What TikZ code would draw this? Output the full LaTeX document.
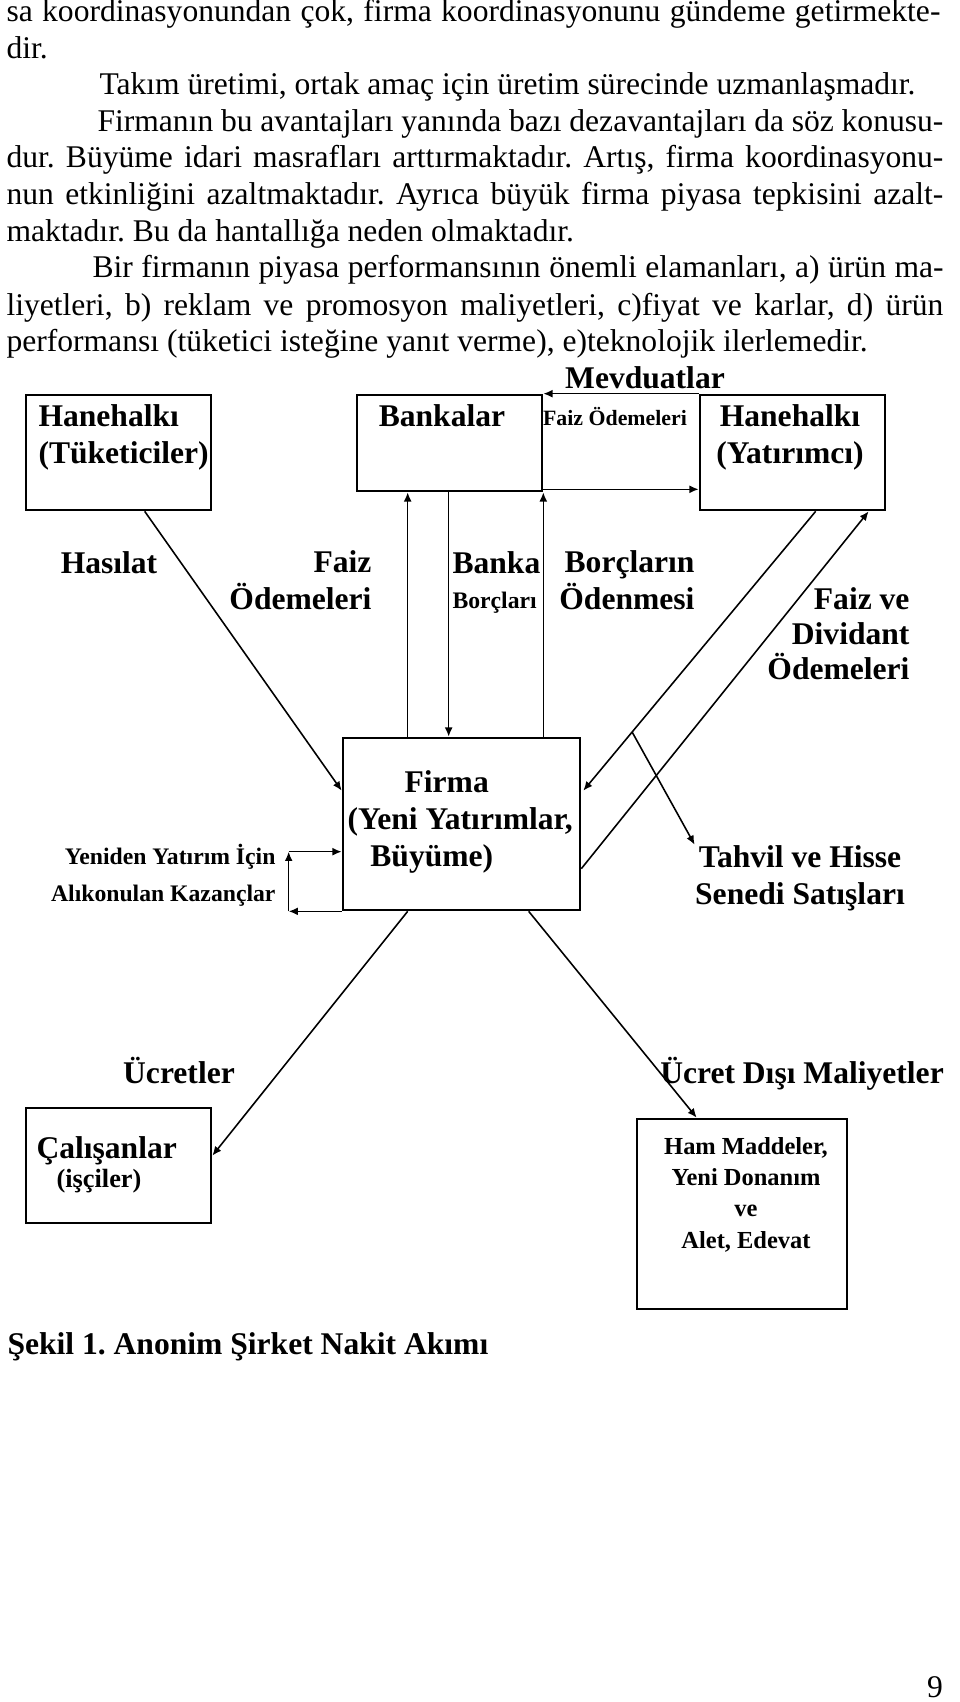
\documentclass[tikz,border=0pt]{standalone}
\usepackage{fontspec}
\setmainfont{Liberation Serif}
\usetikzlibrary{arrows.meta,fit,calc}
\frenchspacing

\begin{document}
\begin{tikzpicture}[x=0.38pt,y=-0.38pt,
  metin/.style={font=\fontsize{12}{14}\selectfont,inner sep=0pt,anchor=base west},
  buyuk/.style={font=\bfseries\fontsize{12}{14}\selectfont,inner sep=0pt,anchor=base},
  kucuk/.style={font=\bfseries\fontsize{9}{14}\selectfont,inner sep=0pt,anchor=base},
  kutu/.style={draw,line width=1pt,inner sep=0pt},
  ok/.style={-{Latex[length=3.5pt,width=3pt]},line width=0.6pt}]
\useasboundingbox (0,0) rectangle (960,1702);

\node[metin] (s1) at (6,22) {\makebox[354.9pt][s]{sa koordinasyonundan çok, firma koordinasyonunu gündeme getirmekte-}};
\node[metin] (s2) at (6,58.6) {dir.};
\node[metin] (s3) at (99,95) {Takım üretimi, ortak amaç için üretim sürecinde uzmanlaşmadır.};
\node[metin] (s4) at (97,132) {\makebox[321.4pt][s]{Firmanın bu avantajları yanında bazı dezavantajları da söz konusu-}};
\node[metin] (s5) at (6,168) {\makebox[356pt][s]{dur. Büyüme idari masrafları arttırmaktadır. Artış, firma koordinasyonu-}};
\node[metin] (s6) at (6,205) {\makebox[356pt][s]{nun etkinliğini azaltmaktadır. Ayrıca büyük firma piyasa tepkisini azalt-}};
\node[metin] (s7) at (6,241.5) {maktadır. Bu da hantallığa neden olmaktadır.};
\node[metin] (s8) at (92,278) {\makebox[323.4pt][s]{Bir firmanın piyasa performansının önemli elamanları, a) ürün ma-}};
\node[metin] (s9) at (6,315) {\makebox[356pt][s]{liyetleri, b) reklam ve promosyon maliyetleri, c)fiyat ve karlar, d) ürün}};
\node[metin] (s10) at (6,351) {performansı (tüketici isteğine yanıt verme), e)teknolojik ilerlemedir.};

\node[kutu,fit={(26,395) (211,510)}] (tuk) {};
\node[kutu,fit={(357,395) (542,491)}] (bank) {};
\node[kutu,fit={(700,395) (885,510)}] (yat) {};
\node[kutu,fit={(343,738) (580,910)}] (firma) {};
\node[kutu,fit={(26,1108) (211,1223)}] (calisan) {};
\node[kutu,fit={(637,1119) (847,1309)}] (ham) {};

\node[buyuk,align=left,anchor=base west] (tukyazi) at (38,463) {Hanehalkı\\(Tüketiciler)};
\node[buyuk] (bankyazi) at (442,426) {Bankalar};
\node[buyuk,align=center] (yatyazi) at (790,463) {Hanehalkı\\(Yatırımcı)};
\node[buyuk,align=left,anchor=base west] (firmayazi) at (347,866) {\hspace{21.7pt}Firma\\(Yeni Yatırımlar,\\\hspace{8.7pt}Büyüme)};
\node[buyuk,anchor=base west] (calisanyazi) at (36,1158) {Çalışanlar};
\node[font=\bfseries\fontsize{10}{12}\selectfont,inner sep=0pt,anchor=base] (isci) at (99,1187) {(işçiler)};
\node[font=\bfseries\fontsize{9.3}{11.8}\selectfont,align=center,inner sep=0pt,anchor=base] (hamyazi) at (746,1248) {Ham Maddeler,\\Yeni Donanım\\ve\\Alet, Edevat};

\node[buyuk] (mevduat) at (645,388) {Mevduatlar};
\node[font=\bfseries\fontsize{8.3}{10}\selectfont,inner sep=0pt,anchor=base] (faizust) at (615,425) {Faiz Ödemeleri};
\node[buyuk] (hasilat) at (109,573) {Hasılat};
\node[buyuk,align=right,anchor=base east] (faizsol) at (372,609) {Faiz\\Ödemeleri};
\node[buyuk,anchor=base west] (banka) at (452,573) {Banka};
\node[kucuk,anchor=base west] (borclari) at (452,608) {Borçları};
\node[buyuk,align=right,anchor=base east] (odenmesi) at (695,609) {Borçların\\Ödenmesi};
\node[buyuk,font=\bfseries\fontsize{12}{13.3}\selectfont,align=right,anchor=base east] (dividant) at (910,679) {Faiz ve\\Dividant\\Ödemeleri};
\node[kucuk,align=right,anchor=base east] (alikonulan) at (276,901) {Yeniden Yatırım İçin\\Alıkonulan Kazançlar};
\node[buyuk,align=center] (tahvil) at (800,904) {Tahvil ve Hisse\\Senedi Satışları};
\node[buyuk] (ucret) at (179,1083) {Ücretler};
\node[buyuk] (ucretdisi) at (802,1083) {Ücret Dışı Maliyetler};
\node[buyuk,anchor=base west] (sekil) at (7,1354) {Şekil 1. Anonim Şirket Nakit Akımı};
\node[metin,anchor=base] (sayfa) at (935,1697) {9};

\draw[ok] (yat.north west) -- (bank.north east);
\coordinate (f1) at ($(bank.south east)+(0,-3)$);
\draw[ok] (f1) -- (f1 -| yat.west);
\draw[ok] ($(tuk.south west)+(120,0)$) -- ($(firma.north west)+(0,54)$);
\coordinate (v1) at ($(firma.north west)+(66,0)$);
\draw[ok] (v1) -- (v1 |- bank.south);
\coordinate (v2) at ($(bank.south west)+(93,0)$);
\draw[ok] (v2) -- (v2 |- firma.north);
\draw[ok] (bank.south east |- firma.north) -- (bank.south east);
\coordinate (r1) at ($(yat.south west)+(117,0)$);
\coordinate (r1e) at ($(firma.north east)+(2,54)$);
\draw[ok] (r1) -- (r1e);
\draw[ok] ($(firma.north east)+(0,132)$) -- ($(yat.south west)+(170,0)$);
\draw[ok] ($(r1)!0.79!(r1e)$) -- (tahvil.north west);
\coordinate (d1) at ($(firma.south west)+(-53,0)$);
\coordinate (d2) at ($(firma.north west)+(-53,115)$);
\draw[ok] (firma.south west) -- (d1);
\draw[ok] (d1) -- (d2);
\draw[ok] (d2) -- (d2 -| firma.west);
\draw[ok] ($(firma.south west)+(66,0)$) -- ($(calisan.north east)+(0,49)$);
\draw[ok] ($(firma.south west)+(187,0)$) -- ($(ham.north west)+(61,0)$);
\end{tikzpicture}
\end{document}
